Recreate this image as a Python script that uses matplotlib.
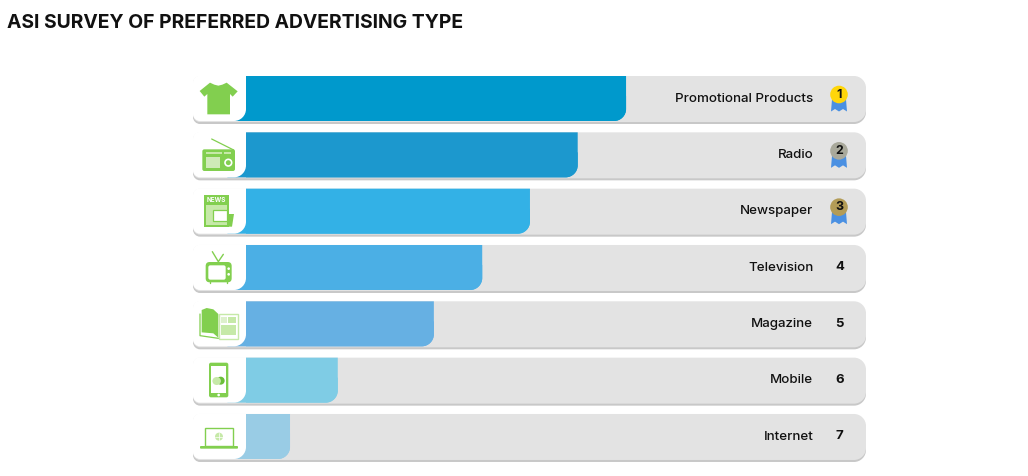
"""ASI survey of preferred advertising type, ranked bars with icons."""
import matplotlib
matplotlib.use("Agg")
import matplotlib.pyplot as plt
from matplotlib.patches import Circle, Ellipse, FancyBboxPatch, PathPatch, Polygon, Rectangle
from matplotlib.path import Path

W, H = 1028, 476

categories = ["Promotional Products", "Radio", "Newspaper", "Television", "Magazine", "Mobile", "Internet"]
ranks = [1, 2, 3, 4, 5, 6, 7]
values = [61.3, 53.5, 45.8, 38.1, 30.3, 14.8, 7.1]
bar_colors = ["#0099CC", "#1C98CE", "#33B1E6", "#4BAFE5", "#66B0E3", "#7FCCE5", "#99CCE5"]
medal_colors = ["#FFD60A", "#A9A99B", "#B39C57"]

GREEN = "#82CF4F"
LIGHT = "#C6E9A8"
TRACK = "#E3E3E3"
SHADOW = "#C8C8C8"
FONT = ["Inter", "DejaVu Sans"]

# value 0 sits at px 246, value 100 at px 866; rows are 56.33 px apart from 98.5
PX_X = 6.2
PX_Y = 56.33
BAR_H = 45 / PX_Y


def rounded(x0, x1, y0, y1, tl=0, tr=0, br=0, bl=0):
    """Closed path with per-corner radii given in px, in value/row units. y grows downward."""
    k = 0.45
    rx, ry = 1 / PX_X, 1 / PX_Y
    v = [(x0 + tl * rx, y0), (x1 - tr * rx, y0),
         (x1 - tr * rx * k, y0), (x1, y0 + tr * ry * k), (x1, y0 + tr * ry),
         (x1, y1 - br * ry),
         (x1, y1 - br * ry * k), (x1 - br * rx * k, y1), (x1 - br * rx, y1),
         (x0 + bl * rx, y1),
         (x0 + bl * rx * k, y1), (x0, y1 - bl * ry * k), (x0, y1 - bl * ry),
         (x0, y0 + tl * ry),
         (x0, y0 + tl * ry * k), (x0 + tl * rx * k, y0), (x0 + tl * rx, y0),
         (x0 + tl * rx, y0)]
    c = [Path.MOVETO, Path.LINETO, Path.CURVE4, Path.CURVE4, Path.CURVE4, Path.LINETO,
         Path.CURVE4, Path.CURVE4, Path.CURVE4, Path.LINETO,
         Path.CURVE4, Path.CURVE4, Path.CURVE4, Path.LINETO,
         Path.CURVE4, Path.CURVE4, Path.CURVE4, Path.CLOSEPOLY]
    return Path(v, c)


fig = plt.figure(figsize=(W / 100, H / 100), dpi=100, facecolor="white")
ax = fig.add_axes([0, 0, 1, 1])
ax.set_xlim(-246 / PX_X, (W - 246) / PX_X)
ax.set_ylim((H - 98.5) / PX_Y, -98.5 / PX_Y)
ax.axis("off")

# pixel overlay for the icons and medals
px = fig.add_axes([0, 0, 1, 1], zorder=5)
px.set_xlim(0, W)
px.set_ylim(H, 0)
px.axis("off")
px.patch.set_alpha(0)

left = (193 - 246) / PX_X
tab_right = 0.0
for i, (cat, val, col) in enumerate(zip(categories, values, bar_colors)):
    top, bot = i - BAR_H / 2, i + BAR_H / 2
    ax.add_patch(PathPatch(rounded(left, 100, top + 4 / PX_Y, bot + 3 / PX_Y, 7, 12, 12, 7),
                           fc=SHADOW, ec="none", zorder=1))
    ax.add_patch(PathPatch(rounded(left, 100, top, bot + 1 / PX_Y, 7, 12, 12, 7),
                           fc=TRACK, ec="none", zorder=2))
    ax.add_patch(PathPatch(rounded(-3, val, top + 20 / PX_Y, bot, 0, 0, 12, 0), fc=col, ec="none", zorder=3))
    ax.add_patch(PathPatch(rounded(0, val, top, bot, 0, 0, 12, 0), fc=col, ec="none", zorder=3))
    ax.add_patch(PathPatch(rounded(left, tab_right, top - 0.5 / PX_Y, bot, 7, 0, 12, 7),
                           fc="white", ec="none", zorder=4))
    ax.text(91.5, i + 0.005, cat, ha="right", va="center", fontsize=9.6, family=FONT,
            fontweight="medium", color="#111111", zorder=5)
    if ranks[i] > 3:
        ax.text(95.7, i - 0.005, str(ranks[i]), ha="center", va="center", fontsize=9.5,
                family=FONT, fontweight="bold", color="#111111", zorder=5)

fig.text(7 / W, 1 - 22.5 / H, "ASI SURVEY OF PREFERRED ADVERTISING TYPE", ha="left", va="center",
         fontsize=13.9, family=FONT, fontweight="bold", color="#111111")

# medals
for i, mc in enumerate(medal_colors):
    cy = 94.5 + i * PX_Y
    px.add_patch(Polygon([(832, cy + 5), (846, cy + 5), (847, cy + 17), (843, cy + 14.5), (839, cy + 17),
                          (835, cy + 14.5), (831, cy + 17)], fc="#4A90E2", ec="none"))
    px.add_patch(Circle((839, cy), 8.8, fc=mc, ec="none"))
    px.text(839, cy, str(ranks[i]), ha="center", va="center", fontsize=9, family=FONT,
            fontweight="bold", color="#111111")


def z(pts, oy):
    return [(185 + x / 3, oy + y / 3) for x, y in pts]


def poly(pts, oy, fc=GREEN, ec="none", lw=0):
    px.add_patch(Polygon(z(pts, oy), closed=True, fc=fc, ec=ec, lw=lw))


def box(x0, y0, x1, y1, oy, fc=GREEN, ec="none", lw=0):
    a, b = z([(x0, y0), (x1, y1)], oy)
    px.add_patch(Rectangle(a, b[0] - a[0], b[1] - a[1], fc=fc, ec=ec, lw=lw))


def rbox(x0, y0, x1, y1, oy, r=2, fc=GREEN):
    a, b = z([(x0, y0), (x1, y1)], oy)
    px.add_patch(FancyBboxPatch((a[0] + r, a[1] + r), b[0] - a[0] - 2 * r, b[1] - a[1] - 2 * r,
                                boxstyle=f"round,pad={r}", fc=fc, ec="none"))


def dot(x, y, r, oy, fc="white", ec="none", lw=0):
    c = z([(x, y)], oy)[0]
    px.add_patch(Circle(c, r / 3, fc=fc, ec=ec, lw=lw))


def seg(pts, oy, lw=1.0, color=GREEN):
    xy = z(pts, oy)
    px.plot([p[0] for p in xy], [p[1] for p in xy], color=color, lw=lw, solid_capstyle="round")


# t-shirt
poly([(75, 38), (88, 44), (100, 47), (112, 44), (125, 38), (158, 64), (143, 80), (135, 72), (135, 133),
      (67, 133), (67, 72), (58, 80), (44, 63)], 70)
# radio
seg([(80, 207), (146, 240)], 70, lw=0.9)
rbox(52, 238, 150, 303, 70)
box(62, 245, 110, 252, 70, fc=LIGHT)
box(118, 245, 138, 252, 70, fc=LIGHT)
box(63, 262, 105, 295, 70, fc="#CFEAB8")
dot(130, 278, 10, 70, fc=GREEN, ec="white", lw=1.2)
# newspaper
poly([(132, 432), (147, 432), (141, 470), (125, 470)], 70)
box(58, 375, 132, 472, 70)
box(64, 405, 127, 466, 70, fc=LIGHT)
box(83, 420, 125, 452, 70, fc="white", ec=GREEN, lw=0.9)
px.text(*z([(95, 391)], 70)[0], "NEWS", ha="center", va="center", fontsize=4.6, family=FONT,
        fontweight="bold", color="white")
# television
seg([(82, 35), (100, 65), (115, 43)], 240, lw=1.0)
seg([(75, 125), (75, 130)], 240, lw=1.0)
seg([(125, 125), (125, 130)], 240, lw=1.0)
rbox(62, 66, 140, 127, 240, r=4)
rbox(70, 76, 122, 119, 240, r=2, fc="white")
dot(131, 86, 4, 240)
dot(131, 103, 4, 240)
# magazine
seg([(45, 222), (45, 287), (100, 295)], 240, lw=0.9)
box(101, 223, 158, 296, 240, fc="white", ec=LIGHT, lw=1.0)
poly([(50, 210), (65, 204), (85, 208), (100, 222), (100, 293), (85, 280), (50, 277)], 240)
box(107, 232, 125, 250, 240, fc="#DDF0CC")
box(130, 232, 153, 250, 240, fc=LIGHT)
box(107, 256, 153, 286, 240, fc=LIGHT)
# mobile
rbox(72, 368, 130, 472, 240, r=2)
box(78, 378, 124, 458, 240, fc="white")
dot(101, 465, 4, 240)
px.add_patch(Ellipse(z([(107, 422)], 240)[0], 8, 8, fc="#6BBF3A", ec="none"))
px.add_patch(Ellipse(z([(95, 423)], 240)[0], 8.5, 8, fc=LIGHT, ec="none"))
# laptop
box(61, 563, 144, 618, 240, fc="white", ec=GREEN, lw=1.0)
rbox(45, 618, 159, 626, 240, r=1)
dot(102, 590, 12, 240, fc=LIGHT)
seg([(90, 590), (114, 590)], 240, lw=0.5, color="white")
seg([(102, 578), (102, 602)], 240, lw=0.5, color="white")

fig.savefig("out.png", dpi=100)
plt.close(fig)
